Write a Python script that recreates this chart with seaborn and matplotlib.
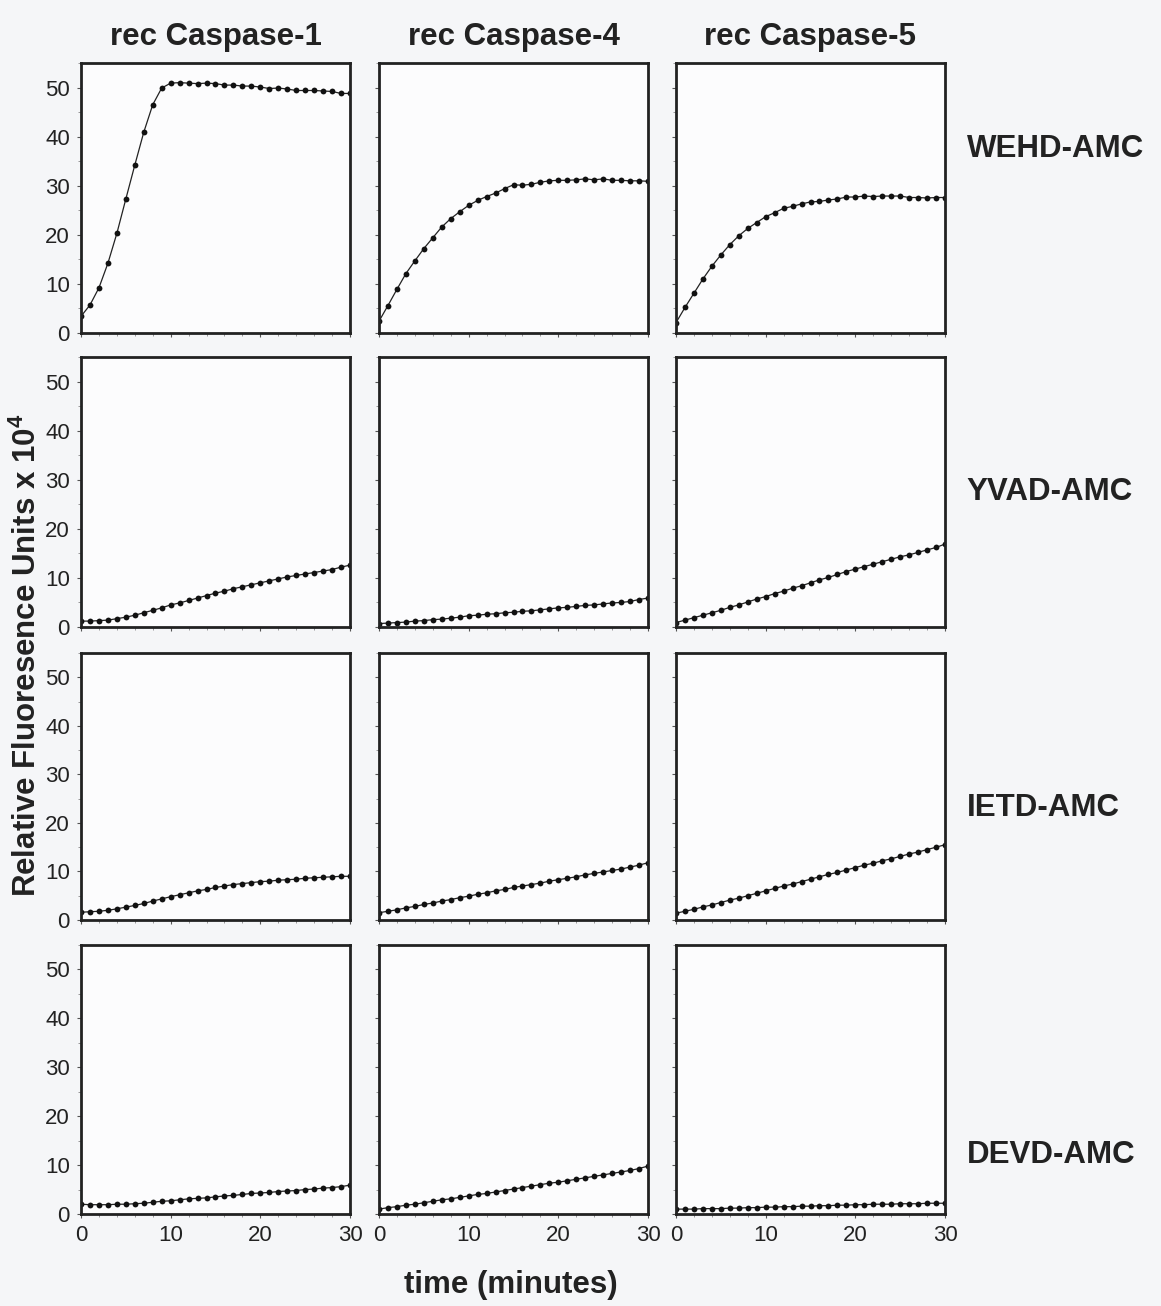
import numpy as np
import pandas as pd
import matplotlib
matplotlib.use("Agg")
import matplotlib.pyplot as plt
from matplotlib.ticker import MultipleLocator
import seaborn as sns

sns.set_style("white")
plt.rcParams['font.family'] = ['Liberation Sans', 'DejaVu Sans']
plt.rcParams['mathtext.fontset'] = 'custom'
plt.rcParams['mathtext.rm'] = 'Liberation Sans'
plt.rcParams['mathtext.bf'] = 'Liberation Sans:bold'

# ---------------- data ----------------
time_min = list(range(31))
enzymes = ["rec Caspase-1", "rec Caspase-4", "rec Caspase-5"]
substrates = ["WEHD-AMC", "YVAD-AMC", "IETD-AMC", "DEVD-AMC"]

WEHD_C1 = [3.4, 5.7, 9.2, 14.2, 20.3, 27.3, 34.2, 40.9, 46.5, 49.9, 50.9, 51.0, 50.9, 50.8, 50.9, 50.8,
           50.5, 50.5, 50.3, 50.3, 50.1, 49.8, 49.9, 49.7, 49.4, 49.4, 49.4, 49.3, 49.2, 48.8, 48.8]
WEHD_C4 = [2.4, 5.6, 8.9, 12.1, 14.7, 17.2, 19.4, 21.6, 23.3, 24.7, 26.0, 27.0, 27.8, 28.5, 29.4, 30.2,
           30.1, 30.3, 30.7, 31.0, 31.1, 31.1, 31.2, 31.4, 31.2, 31.4, 31.1, 31.1, 31.0, 31.0, 30.9]
WEHD_C5 = [2.1, 5.2, 8.1, 11.0, 13.6, 15.9, 18.0, 19.8, 21.3, 22.5, 23.7, 24.5, 25.4, 25.8, 26.3, 26.7,
           26.8, 27.1, 27.3, 27.7, 27.7, 27.9, 27.8, 27.9, 27.9, 27.9, 27.6, 27.6, 27.5, 27.6, 27.6]
YVAD_C1 = [1.2, 1.2, 1.3, 1.4, 1.7, 2.0, 2.4, 2.9, 3.4, 3.9, 4.5, 4.9, 5.4, 5.9, 6.4, 6.9,
           7.3, 7.8, 8.2, 8.6, 9.0, 9.4, 9.8, 10.2, 10.5, 10.8, 11.1, 11.4, 11.7, 12.2, 12.6]
YVAD_C4 = [0.7, 0.8, 0.9, 1.0, 1.2, 1.3, 1.5, 1.6, 1.8, 2.0, 2.3, 2.4, 2.6, 2.7, 2.9, 3.0,
           3.2, 3.3, 3.5, 3.7, 3.9, 4.0, 4.2, 4.4, 4.5, 4.7, 4.9, 5.0, 5.2, 5.6, 5.9]
YVAD_C5 = [0.9, 1.4, 1.9, 2.4, 2.9, 3.4, 4.0, 4.5, 5.1, 5.7, 6.2, 6.8, 7.3, 7.9, 8.4, 9.0,
           9.6, 10.1, 10.7, 11.3, 11.8, 12.3, 12.8, 13.3, 13.8, 14.3, 14.7, 15.2, 15.7, 16.2, 16.9]
IETD_C1 = [1.6, 1.7, 1.8, 2.0, 2.3, 2.65, 3.0, 3.4, 3.9, 4.35, 4.8, 5.2, 5.6, 6.0, 6.3, 6.7,
           7.0, 7.3, 7.5, 7.7, 7.9, 8.0, 8.2, 8.3, 8.4, 8.6, 8.7, 8.8, 8.9, 9.0, 9.0]
IETD_C4 = [1.5, 1.8, 2.1, 2.5, 2.8, 3.2, 3.5, 3.9, 4.2, 4.6, 4.9, 5.3, 5.6, 6.0, 6.3, 6.7,
           7.0, 7.3, 7.6, 8.0, 8.3, 8.6, 8.9, 9.3, 9.6, 9.9, 10.2, 10.5, 10.9, 11.3, 11.8]
IETD_C5 = [1.4, 1.8, 2.2, 2.7, 3.1, 3.6, 4.1, 4.5, 5.0, 5.5, 6.0, 6.5, 7.0, 7.4, 7.9, 8.4,
           8.9, 9.4, 9.8, 10.3, 10.8, 11.3, 11.7, 12.2, 12.6, 13.1, 13.6, 14.0, 14.5, 15.0, 15.5]
DEVD_C1 = [2.0, 1.9, 1.9, 1.9, 2.0, 2.0, 2.1, 2.2, 2.4, 2.6, 2.7, 2.9, 3.1, 3.2, 3.3, 3.5,
           3.7, 3.8, 4.0, 4.2, 4.3, 4.4, 4.6, 4.7, 4.8, 5.0, 5.1, 5.3, 5.4, 5.6, 5.9]
DEVD_C4 = [1.0, 1.3, 1.5, 1.8, 2.0, 2.3, 2.6, 2.9, 3.1, 3.4, 3.7, 4.0, 4.2, 4.5, 4.8, 5.1,
           5.4, 5.7, 6.0, 6.3, 6.5, 6.8, 7.1, 7.4, 7.7, 8.0, 8.3, 8.6, 8.9, 9.3, 9.8]
DEVD_C5 = [1.0, 1.0, 1.0, 1.1, 1.1, 1.1, 1.2, 1.2, 1.3, 1.3, 1.4, 1.4, 1.5, 1.5, 1.6, 1.6,
           1.7, 1.7, 1.8, 1.8, 1.9, 1.9, 2.0, 2.0, 2.0, 2.1, 2.1, 2.1, 2.2, 2.2, 2.2]

series = {
    ("WEHD-AMC", "rec Caspase-1"): WEHD_C1, ("WEHD-AMC", "rec Caspase-4"): WEHD_C4,
    ("WEHD-AMC", "rec Caspase-5"): WEHD_C5,
    ("YVAD-AMC", "rec Caspase-1"): YVAD_C1, ("YVAD-AMC", "rec Caspase-4"): YVAD_C4,
    ("YVAD-AMC", "rec Caspase-5"): YVAD_C5,
    ("IETD-AMC", "rec Caspase-1"): IETD_C1, ("IETD-AMC", "rec Caspase-4"): IETD_C4,
    ("IETD-AMC", "rec Caspase-5"): IETD_C5,
    ("DEVD-AMC", "rec Caspase-1"): DEVD_C1, ("DEVD-AMC", "rec Caspase-4"): DEVD_C4,
    ("DEVD-AMC", "rec Caspase-5"): DEVD_C5,
}

rows = []
for (sub, enz), vals in series.items():
    for t, v in zip(time_min, vals):
        rows.append({"substrate": sub, "enzyme": enz, "time": t, "rfu": v})
df = pd.DataFrame(rows)

# ---------------- layout ----------------
W, H = 1161, 1306
fig = plt.figure(figsize=(W / 100, H / 100), dpi=100)
fig.patch.set_facecolor("#f5f6f8")

col_lr = [(81, 350), (379, 648), (676, 945)]
row_tb = [(63, 333), (357, 627), (653, 920), (945, 1214)]
label_y = [0.68, 0.50, 0.42, 0.22]

for r, sub in enumerate(substrates):
    for c, enz in enumerate(enzymes):
        l, rr = col_lr[c]
        t, b = row_tb[r]
        ax = fig.add_axes([l / W, 1 - b / H, (rr - l) / W, (b - t) / H])
        ax.set_facecolor("#fcfcfd")
        sub_df = df[(df.substrate == sub) & (df.enzyme == enz)]
        sns.lineplot(data=sub_df, x="time", y="rfu", ax=ax, color="#222222",
                     linewidth=0.9, marker="o", markersize=4.2,
                     markeredgewidth=0, markerfacecolor="#111111")
        ax.set_xlim(0, 30)
        ax.set_ylim(0, 55)
        ax.xaxis.set_major_locator(MultipleLocator(10))
        ax.xaxis.set_minor_locator(MultipleLocator(2))
        ax.yaxis.set_major_locator(MultipleLocator(10))
        ax.yaxis.set_minor_locator(MultipleLocator(5))
        ax.tick_params(which="major", direction="out", length=3, width=0.8,
                       color="#555555", labelsize=16, pad=5, labelcolor="#222222")
        ax.tick_params(which="minor", direction="out", length=2, width=0.6,
                       color="#888888")
        ax.tick_params(axis="x", which="both", bottom=True)
        ax.tick_params(axis="y", which="both", left=True)
        for sp in ax.spines.values():
            sp.set_linewidth(2.0)
            sp.set_color("#222222")
        ax.set_xlabel("")
        ax.set_ylabel("")
        if c != 0:
            ax.set_yticklabels([])
        if r != len(substrates) - 1:
            ax.set_xticklabels([])
        if r == 0:
            ax.set_title(enz, fontsize=22.5, fontweight="bold", pad=13, color="#222222")
        if c == 2:
            ax.text(1.08, label_y[r], sub, transform=ax.transAxes, fontsize=22.5,
                    fontweight="bold", ha="left", va="center", color="#222222")

fig.text(27 / W, 1 - 655 / H, r"Relative Fluoresence Units x 10$^{\mathbf{4}}$",
         rotation=90, fontsize=22.5, fontweight="bold", ha="center", va="center",
         color="#222222")
fig.text(511 / W, 1 - 1285 / H, "time (minutes)", fontsize=22.5, fontweight="bold",
         ha="center", va="center", color="#222222")

fig.savefig("out.png", dpi=100, facecolor=fig.get_facecolor())
